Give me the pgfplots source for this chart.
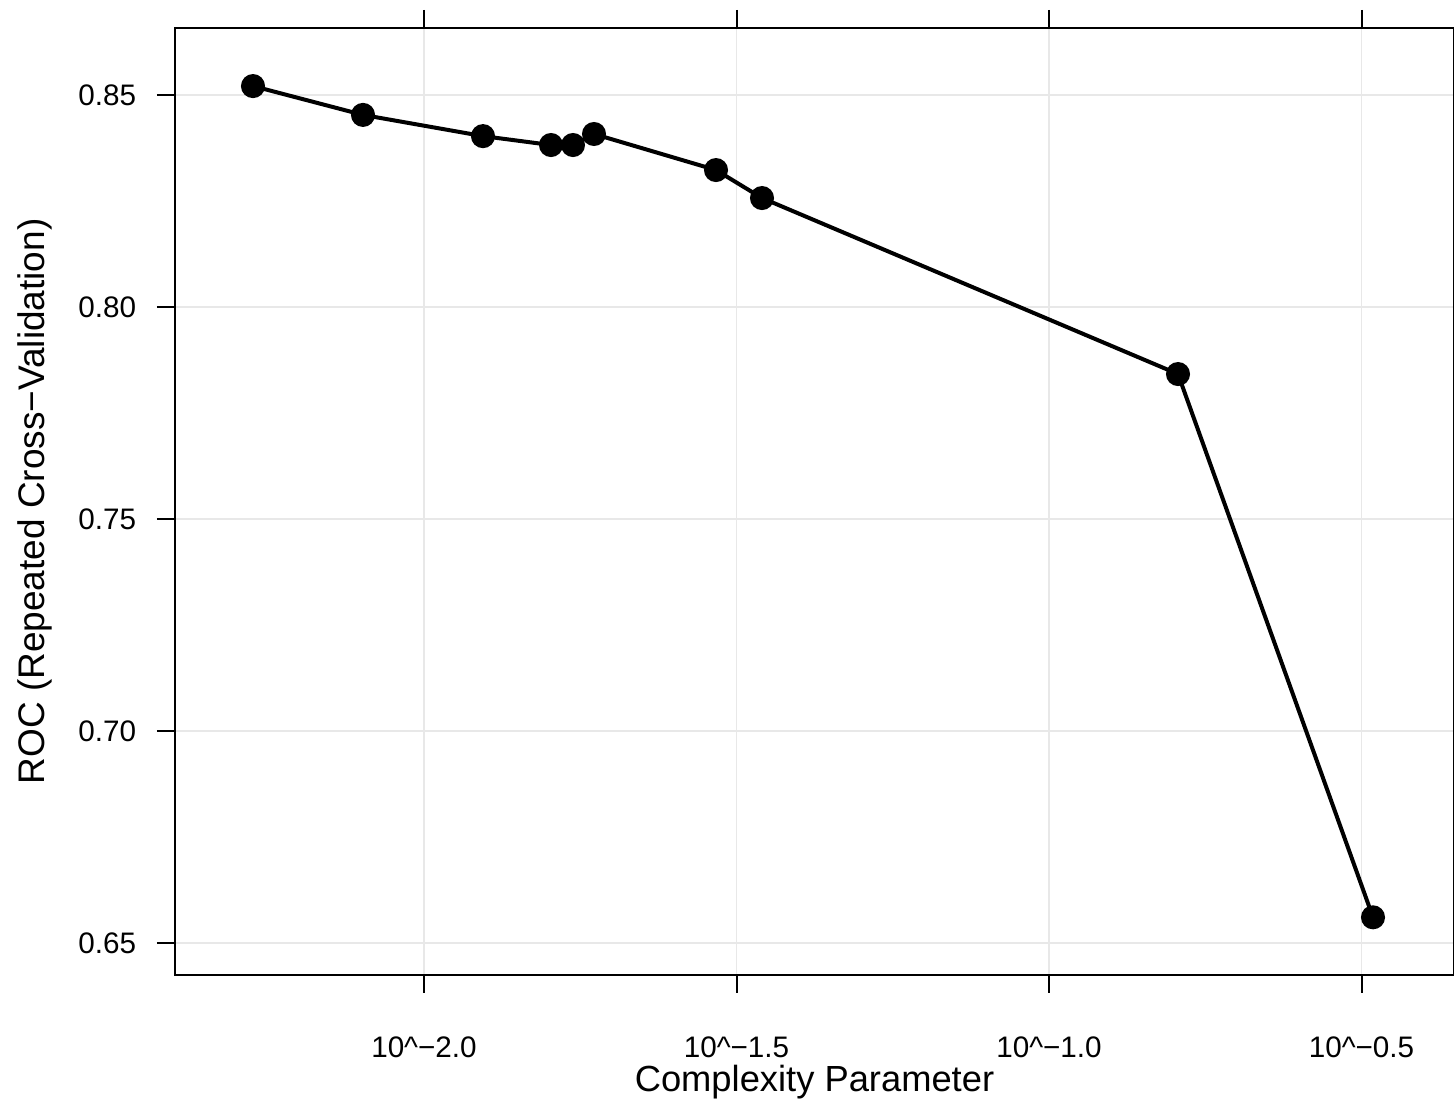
\documentclass[border=0pt]{standalone}
\usepackage{fontspec}
\setmainfont{Liberation Sans}
\usepackage{pgfplots}
\pgfplotsset{compat=1.18}
\begin{document}
\begin{tikzpicture}[x=1pt,y=1pt]
\path[use as bounding box] (-52.5,-38.4) rectangle (383.7,292.5);
\begin{axis}[at={(0,0)}, anchor=south west, scale only axis,
  width=383.7pt, height=284.1pt,
  xmin=-2.3984, xmax=-0.352, ymin=0.6425, ymax=0.8658,
  xtick={-2,-1.5,-1,-0.5},
  xticklabels={10\textasciicircum−2.0,10\textasciicircum−1.5,10\textasciicircum−1.0,10\textasciicircum−0.5},
  ytick={0.65,0.70,0.75,0.80,0.85},
  yticklabels={0.65,0.70,0.75,0.80,0.85},
  grid=major, major grid style={color=black!9, line width=0.45pt},
  tick align=outside, major tick length=5.4pt,
  xtick pos=both, ytick pos=left, xticklabel pos=lower,
  axis line style={line width=0.6pt},
  every tick/.style={black, line width=0.6pt},
  tick label style={font=\fontsize{8.9}{10}\selectfont},
  xticklabel style={yshift=-9.6pt},
  yticklabel style={xshift=-2.7pt},
  label style={font=\fontsize{10.9}{13}\selectfont},
  xlabel={Complexity Parameter},
  ylabel={ROC (Repeated Cross−Validation)},
  xlabel style={at={(axis description cs:0.5,-0.113)}, anchor=center},
  ylabel style={at={(axis description cs:-0.1095,0.5)}, anchor=center, font=\fontsize{11.1}{13}\selectfont},
]
\addplot[black, line width=1.2pt, mark=*, mark size=3pt, mark options={solid}] coordinates {
(-2.2736,0.8521)
(-2.0976,0.8453)
(-1.9056,0.8403)
(-1.7968,0.8382)
(-1.7616,0.8382)
(-1.7280,0.8408)
(-1.5328,0.8323)
(-1.4592,0.8257)
(-0.7936,0.7842)
(-0.4816,0.6561)
};
\end{axis}
\end{tikzpicture}
\end{document}
